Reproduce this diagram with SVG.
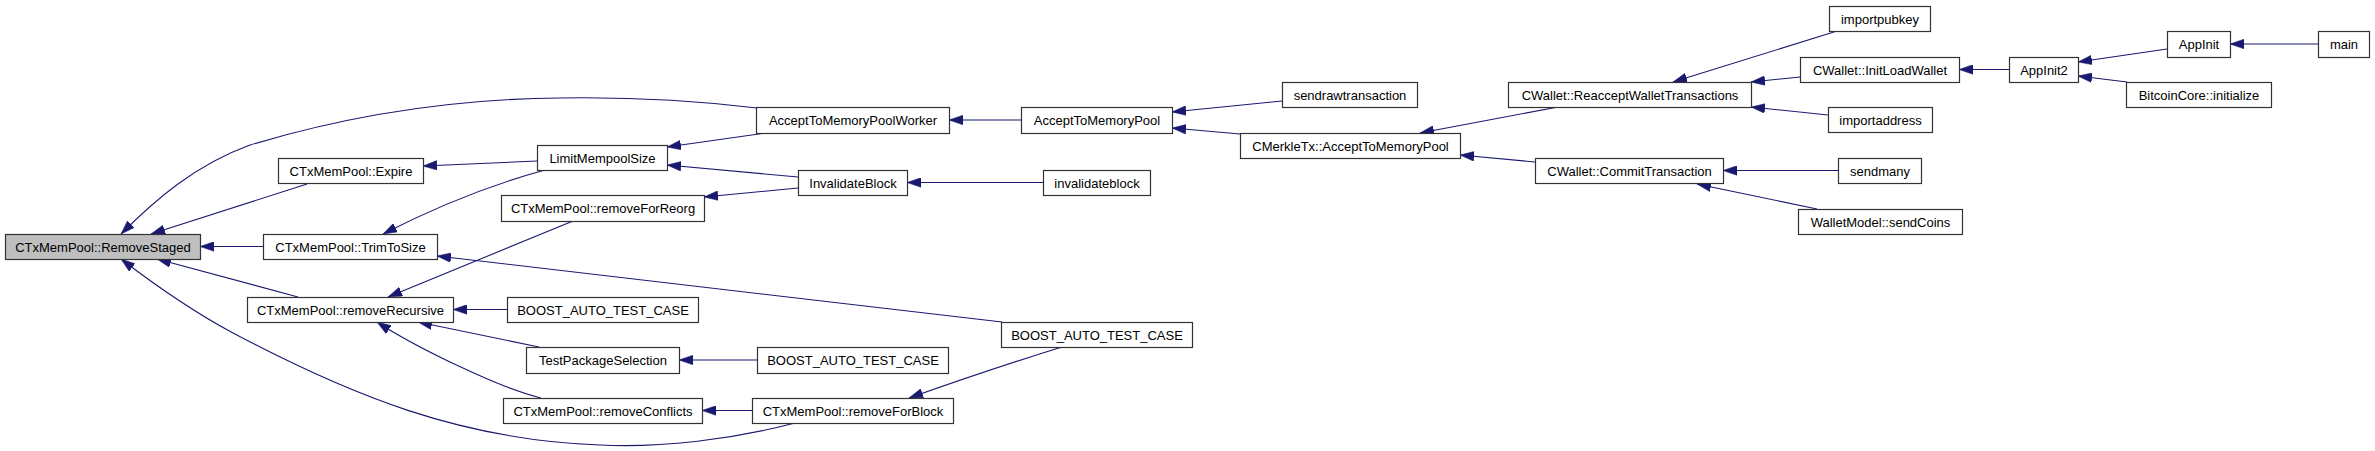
<svg xmlns="http://www.w3.org/2000/svg" width="2375" height="451" viewBox="0 0 2375 451">
<style>
.n rect{fill:#ffffff;stroke:#333333;stroke-width:1.2}
.n.h rect{fill:#bfbfbf}
.n text{font-family:"Liberation Sans",Arial,sans-serif;font-size:13px;fill:#000000;text-anchor:middle}
.e path{fill:none;stroke:#191970;stroke-width:1.1;marker-end:url(#arr)}
</style>
<defs>
<marker id="arr" viewBox="0 0 14 10" refX="14" refY="5" markerUnits="userSpaceOnUse" markerWidth="14" markerHeight="10" orient="auto">
<path d="M0,0.2 L14,5 L0,9.8 z" fill="#191970" stroke="#191970" stroke-width="0.5"/>
</marker>
</defs>
<rect width="2375" height="451" fill="#ffffff"/>
<g id="connectors" class="e">
<path d="M757,108 C690,100 620,97 560,98 C440,99 340,118 250,145 C195,165 155,200 121,234"/>
<path d="M307,184 L151,234"/>
<path d="M263,246.5 L200,246.5"/>
<path d="M298,297 L157,259"/>
<path d="M795,423 C730,440 660,448 600,445 C460,440 350,395 233,333 C190,310 155,285 121,259"/>
<path d="M537,161 L423,166"/>
<path d="M545,170 C490,185 430,210 383,234"/>
<path d="M1002,322 L437,256"/>
<path d="M573,221 L388,297"/>
<path d="M507,309.5 L453,309.5"/>
<path d="M539,347 L418,322"/>
<path d="M541,398 C510,390 480,376 450,362 C425,350 400,337 377,322"/>
<path d="M766,133 L667,147"/>
<path d="M798,177 L667,165"/>
<path d="M798,188 L704,197"/>
<path d="M757,360 L679,360"/>
<path d="M752,410.5 L702,410.5"/>
<path d="M1062,347 C1010,363 960,380 909,398"/>
<path d="M1021,120 L949,120"/>
<path d="M1043,182.5 L907,182.5"/>
<path d="M1282,101 L1172,112"/>
<path d="M1240,134 L1172,128"/>
<path d="M1558,107 L1420,133"/>
<path d="M1535,162 L1460,155"/>
<path d="M1837,31 L1673,82"/>
<path d="M1800,77 L1751,82"/>
<path d="M1828,115 L1751,107"/>
<path d="M1838,170.5 L1723,170.5"/>
<path d="M1817,209 L1697,184"/>
<path d="M2009,69.5 L1959,69.5"/>
<path d="M2167,49 L2078,62"/>
<path d="M2127,82 L2078,76"/>
<path d="M2318,44 L2230,44"/>
</g>
<g id="n_removestaged" class="n h"><rect x="5.5" y="234.5" width="195" height="25"/><text x="103" y="251.5">CTxMemPool::RemoveStaged</text></g>
<g id="n_expire" class="n"><rect x="278.5" y="158.5" width="145" height="25"/><text x="351" y="175.5">CTxMemPool::Expire</text></g>
<g id="n_trimtosize" class="n"><rect x="263.5" y="234.5" width="174" height="25"/><text x="350.5" y="251.5">CTxMemPool::TrimToSize</text></g>
<g id="n_removerecursive" class="n"><rect x="247.5" y="297.5" width="206" height="25"/><text x="350.5" y="314.5">CTxMemPool::removeRecursive</text></g>
<g id="n_atmpworker" class="n"><rect x="756.5" y="107.5" width="193" height="26"/><text x="853" y="125">AcceptToMemoryPoolWorker</text></g>
<g id="n_limitmempoolsize" class="n"><rect x="537.5" y="145.5" width="130" height="25"/><text x="602.5" y="162.5">LimitMempoolSize</text></g>
<g id="n_invalidateblock_cap" class="n"><rect x="798.5" y="170.5" width="109" height="25"/><text x="853" y="187.5">InvalidateBlock</text></g>
<g id="n_removeforreorg" class="n"><rect x="501.5" y="195.5" width="203" height="26"/><text x="603" y="213">CTxMemPool::removeForReorg</text></g>
<g id="n_boost1" class="n"><rect x="507.5" y="297.5" width="191" height="25"/><text x="603" y="314.5">BOOST_AUTO_TEST_CASE</text></g>
<g id="n_testpackageselection" class="n"><rect x="526.5" y="347.5" width="153" height="26"/><text x="603" y="365">TestPackageSelection</text></g>
<g id="n_boost3" class="n"><rect x="757.5" y="347.5" width="191" height="26"/><text x="853" y="365">BOOST_AUTO_TEST_CASE</text></g>
<g id="n_removeconflicts" class="n"><rect x="503.5" y="398.5" width="199" height="25"/><text x="603" y="415.5">CTxMemPool::removeConflicts</text></g>
<g id="n_removeforblock" class="n"><rect x="752.5" y="398.5" width="201" height="25"/><text x="853" y="415.5">CTxMemPool::removeForBlock</text></g>
<g id="n_boost2" class="n"><rect x="1001.5" y="322.5" width="191" height="25"/><text x="1097" y="339.5">BOOST_AUTO_TEST_CASE</text></g>
<g id="n_atmp" class="n"><rect x="1021.5" y="107.5" width="151" height="26"/><text x="1097" y="125">AcceptToMemoryPool</text></g>
<g id="n_sendrawtransaction" class="n"><rect x="1282.5" y="82.5" width="135" height="25"/><text x="1350" y="99.5">sendrawtransaction</text></g>
<g id="n_cmerkletx" class="n"><rect x="1240.5" y="133.5" width="220" height="25"/><text x="1350.5" y="150.5">CMerkleTx::AcceptToMemoryPool</text></g>
<g id="n_invalidateblock" class="n"><rect x="1043.5" y="170.5" width="107" height="25"/><text x="1097" y="187.5">invalidateblock</text></g>
<g id="n_reaccept" class="n"><rect x="1508.5" y="82.5" width="243" height="25"/><text x="1630" y="99.5">CWallet::ReacceptWalletTransactions</text></g>
<g id="n_importpubkey" class="n"><rect x="1829.5" y="6.5" width="101" height="25"/><text x="1880" y="23.5">importpubkey</text></g>
<g id="n_initloadwallet" class="n"><rect x="1800.5" y="57.5" width="159" height="25"/><text x="1880" y="74.5">CWallet::InitLoadWallet</text></g>
<g id="n_importaddress" class="n"><rect x="1828.5" y="107.5" width="104" height="25"/><text x="1880.5" y="124.5">importaddress</text></g>
<g id="n_committransaction" class="n"><rect x="1535.5" y="158.5" width="188" height="25"/><text x="1629.5" y="175.5">CWallet::CommitTransaction</text></g>
<g id="n_sendmany" class="n"><rect x="1838.5" y="158.5" width="83" height="25"/><text x="1880" y="175.5">sendmany</text></g>
<g id="n_sendcoins" class="n"><rect x="1798.5" y="209.5" width="164" height="25"/><text x="1880.5" y="226.5">WalletModel::sendCoins</text></g>
<g id="n_appinit2" class="n"><rect x="2009.5" y="57.5" width="69" height="25"/><text x="2044" y="74.5">AppInit2</text></g>
<g id="n_appinit" class="n"><rect x="2167.5" y="31.5" width="63" height="26"/><text x="2199" y="49">AppInit</text></g>
<g id="n_main" class="n"><rect x="2318.5" y="31.5" width="51" height="26"/><text x="2344" y="49">main</text></g>
<g id="n_bitcoincore" class="n"><rect x="2126.5" y="82.5" width="145" height="25"/><text x="2199" y="99.5">BitcoinCore::initialize</text></g>
</svg>
